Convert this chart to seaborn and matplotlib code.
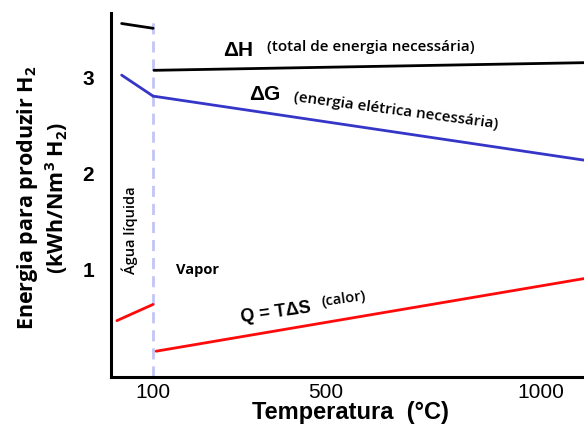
import numpy as np
import pandas as pd
import matplotlib
matplotlib.use("Agg")
import matplotlib.pyplot as plt
import seaborn as sns

# ---- data ----
T_dH_liq = [27, 100]
dH_liq = [3.57, 3.52]
T_dH_vap = [102, 1100]
dH_vap = [3.08, 3.16]

T_dG_liq = [27, 100]
dG_liq = [3.03, 2.81]
T_dG_vap = [100, 1100]
dG_vap = [2.81, 2.14]

T_Q_liq = [16, 100]
Q_liq = [0.46, 0.63]
T_Q_vap = [107, 1100]
Q_vap = [0.14, 0.90]

x_ticks = [100, 500, 1000]
y_ticks = [1, 2, 3]
T_boil = 100

sns.set_theme(style="white")
plt.rcParams['font.family'] = ['Liberation Sans', 'DejaVu Sans']
plt.rcParams['mathtext.default'] = 'regular'
for k in ['text.color', 'axes.labelcolor', 'xtick.color', 'ytick.color']:
    plt.rcParams[k] = 'black'

W, H = 584, 430
fig = plt.figure(figsize=(W / 100, H / 100), dpi=100)
ax = fig.add_axes([111 / W, 1 - 377 / H, (W - 111) / W, (377 - 13) / H])

BLACK = '#000000'
BLUE = '#3535c8'
RED = '#ff0a0a'
lw = 2.0

segments = [
    (T_dH_liq, dH_liq, BLACK), (T_dH_vap, dH_vap, BLACK),
    (T_dG_liq, dG_liq, BLUE), (T_dG_vap, dG_vap, BLUE),
    (T_Q_liq, Q_liq, RED), (T_Q_vap, Q_vap, RED),
]
for xs, ys, c in segments:
    sns.lineplot(x=xs, y=ys, color=c, lw=lw, ax=ax)

ax.axvline(T_boil, ymax=0.99, color='#c4c4f6', lw=2, ls=(0, (4, 2.5)), zorder=0)

ax.set_xlim(2.3, 1100)
ax.set_ylim(-0.13, 3.68)
ax.set_xticks(x_ticks)
ax.set_yticks(y_ticks)
ax.set_xticklabels([str(v) for v in x_ticks], fontsize=15)
ax.set_yticklabels([str(v) for v in y_ticks], fontsize=15, fontweight='bold')
ax.tick_params(axis='both', length=0, pad=4)
ax.tick_params(axis='y', pad=12)
for s in ['top', 'right']:
    ax.spines[s].set_visible(False)
for s in ['left', 'bottom']:
    ax.spines[s].set_color('black')
    ax.spines[s].set_linewidth(2.2)

def ftext(px, py, s, **kw):
    fig.text(px / W, 1 - py / H, s, ha='center', va='center', **kw)

OPEN = ['Open Sans', 'DejaVu Sans']
# annotations
ftext(238, 50, 'ΔH', fontsize=15, fontweight='bold')
ftext(371, 47, '(total de energia necessária)', fontsize=11, fontweight='semibold', family=OPEN)
ftext(265, 95, 'ΔG', fontsize=15, fontweight='bold')
ftext(396, 111, '(energia elétrica necessária)', fontsize=11, fontweight='semibold',
      family=OPEN, rotation=-7.6)
ftext(276, 313, 'Q = TΔS', fontsize=13, fontweight='bold', rotation=8)
ftext(344, 299, '(calor)', fontsize=10.5, fontweight='semibold', family=OPEN, rotation=8)
ftext(197, 270, 'Vapor', fontsize=10.5, fontweight='bold', family=OPEN)
ftext(130, 230, 'Água líquida', fontsize=10.5, fontweight='semibold', family=OPEN, rotation=90)

# axis labels
ftext(28, 198, 'Energia para produzir H$_2$', fontsize=15.5, fontweight='bold',
      family=OPEN, rotation=90)
ftext(57, 198, '(kWh/Nm$^3$ H$_2$)', fontsize=15.5, fontweight='bold',
      family=OPEN, rotation=90)
ftext(350, 412, 'Temperatura  (°C)', fontsize=17, fontweight='bold')

fig.savefig('out.png', dpi=100)
